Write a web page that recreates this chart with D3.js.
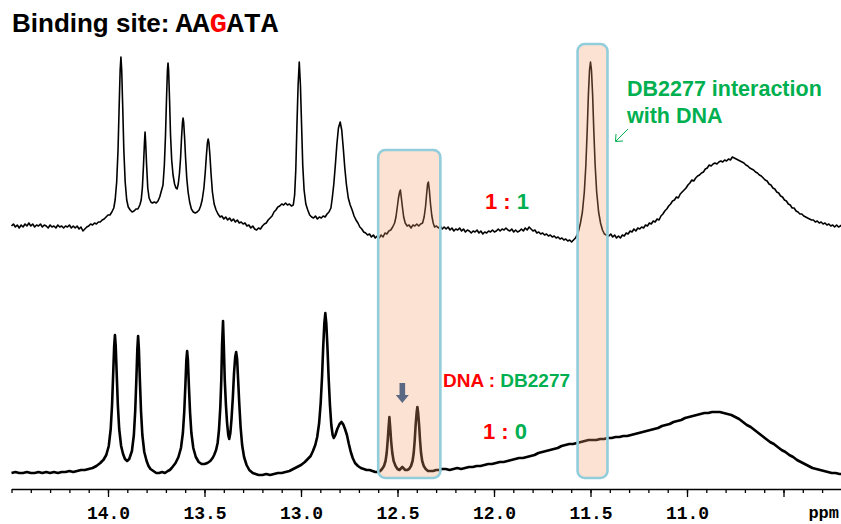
<!DOCTYPE html>
<html><head><meta charset="utf-8">
<script src="https://cdn.jsdelivr.net/npm/d3@7"></script>
<style>html,body{margin:0;padding:0;background:#fff;} svg{display:block;}</style>
</head><body>
<svg id="chart" width="841" height="524"></svg>
<script>
// ---------- DATA ----------
const majorTicks = [14.0, 13.5, 13.0, 12.5, 12.0, 11.5, 11.0, 10.5];
const tickLabels = ["14.0", "13.5", "13.0", "12.5", "12.0", "11.5", "11.0", ""];
const axisUnit = "ppm";
const ratioLabels = [["1 : ", "1"], ["1 : ", "0"]];
const highlightRanges = [[12.600, 12.278], [11.567, 11.412]];
const arrowPpm = 12.475;

// DNA : DB2277 = 1 : 1  (ppm, relative intensity)
const spectrum11 = [
[14.50,24],[14.49,26],[14.48,23],[14.47,25],[14.46,22],[14.45,25],[14.44,23],[14.43,26],[14.42,24],[14.41,27],[14.40,24],[14.39,26],[14.38,23],[14.37,25],[14.36,24],[14.35,26],[14.34,23],[14.33,25],[14.32,24],[14.31,22],[14.30,25],[14.29,23],[14.28,24],[14.27,22],[14.26,25],[14.25,23],[14.24,24],[14.23,22],[14.22,24],[14.21,23],[14.20,25],[14.19,22],[14.18,24],[14.17,22],[14.16,24],[14.15,21],[14.14,23],[14.13,19],[14.12,21],[14.11,23],[14.10,24],[14.09,26],[14.08,25],[14.07,27],[14.06,26],[14.05,28],[14.04,28],[14.03,30],[14.02,31],[14.01,33],[14.00,35],
[13.99,35],[13.98,38],[13.97,42],[13.963,50],[13.955,68],[13.948,100],[13.942,145],[13.937,180],[13.933,193],[13.929,180],[13.924,145],[13.918,100],[13.911,68],[13.903,50],[13.895,43],[13.885,40],[13.875,38],[13.865,39],[13.855,41],[13.845,41],[13.835,45],
[13.828,50],[13.822,62],[13.816,85],[13.811,108],[13.808,118],[13.805,108],[13.800,85],[13.794,62],[13.787,52],[13.778,48],[13.770,47],[13.760,48],[13.750,47],[13.741,49],[13.732,53],
[13.725,58],[13.715,65],[13.708,85],[13.702,115],[13.697,150],[13.692,180],[13.689,187],[13.686,180],[13.681,150],[13.676,115],[13.670,90],[13.663,75],[13.655,66],[13.648,62],[13.642,61],[13.636,66],[13.630,76],[13.624,92],[13.619,112],[13.614,128],[13.611,132],[13.608,128],[13.603,112],[13.598,92],[13.592,72],[13.585,58],[13.577,48],[13.568,41],[13.558,38],[13.548,37],[13.538,38],[13.528,40],[13.520,44],
[13.512,50],[13.503,62],[13.496,78],[13.490,95],[13.485,107],[13.481,111],[13.477,107],[13.472,95],[13.466,76],[13.459,58],[13.450,46],[13.440,40],[13.430,36],[13.419,33],
[13.41,34],[13.40,31],[13.39,33],[13.38,30],[13.37,32],[13.36,29],[13.35,31],[13.34,28],[13.33,30],[13.32,27],[13.31,28],[13.30,26],[13.29,27],[13.28,24],[13.27,25],[13.26,22],[13.25,24],[13.24,21],[13.23,20],[13.22,22],[13.21,21],[13.20,24],[13.19,26],[13.18,27],[13.17,30],[13.16,32],[13.15,34],[13.14,38],[13.13,40],[13.12,43],[13.11,44],[13.10,46],[13.09,45],[13.08,47],[13.07,45],[13.06,46],[13.05,44],[13.04,45],
[13.033,55],[13.027,80],[13.021,125],[13.015,165],[13.009,188],[13.003,165],[12.997,125],[12.991,85],[12.984,60],[12.975,46],[12.965,40],[12.955,35],[12.945,33],[12.935,32],[12.925,34],[12.915,31],[12.905,33],[12.895,32],[12.885,34],[12.875,33],[12.865,36],[12.855,38],[12.845,42],
[12.838,52],[12.830,66],[12.822,85],[12.814,106],[12.806,122],[12.797,128],[12.789,120],[12.781,102],[12.773,82],[12.765,66],[12.755,52],[12.745,45],[12.735,40],[12.725,34],[12.715,30],[12.705,27],[12.695,23],[12.685,21],[12.675,18],[12.665,17],[12.655,15],[12.645,16],[12.635,13],[12.625,15],[12.615,12],[12.605,14],[12.595,12],[12.585,15],
[12.575,13],[12.565,17],[12.555,16],[12.545,19],[12.535,20],[12.525,23],[12.515,27],[12.508,33],[12.501,43],[12.495,52],[12.489,58],[12.485,60],[12.480,52],[12.474,42],[12.468,33],[12.460,27],[12.450,24],[12.440,25],[12.430,22],[12.420,25],[12.410,24],[12.400,26],[12.390,24],[12.380,26],[12.370,27],[12.362,33],[12.355,43],[12.349,56],[12.344,66],[12.340,68],[12.335,60],[12.329,46],[12.322,34],[12.315,27],[12.308,23],[12.298,24],[12.288,22],[12.278,24],[12.268,21],[12.258,23],[12.248,21],[12.238,23],
[12.228,20],[12.218,22],[12.208,19],[12.198,21],[12.188,20],[12.178,22],[12.168,19],[12.158,21],[12.148,18],[12.138,20],[12.128,19],[12.118,17],[12.108,19],[12.098,18],[12.088,20],[12.078,17],[12.068,19],[12.058,16],[12.048,18],[12.038,17],[12.028,19],[12.018,18],[12.008,20],[11.998,18],[11.988,19],[11.978,21],[11.968,19],[11.958,21],[11.948,20],[11.938,22],[11.928,20],[11.918,19],[11.908,21],[11.898,18],[11.888,20],[11.878,18],[11.868,19],[11.858,21],[11.848,19],[11.838,22],[11.828,20],[11.818,23],[11.808,21],[11.798,19],[11.788,20],[11.778,17],[11.768,18],[11.758,16],[11.748,17],[11.738,15],[11.728,16],[11.718,14],[11.708,15],[11.698,13],[11.688,14],[11.678,12],[11.668,13],[11.658,11],[11.648,12],[11.638,10],[11.628,11],[11.618,9],[11.608,10],[11.598,8],[11.588,10],[11.578,12],[11.570,15],
[11.562,19],[11.552,27],[11.542,38],[11.532,58],[11.524,85],[11.517,120],[11.511,155],[11.505,180],[11.500,188],[11.495,180],[11.489,155],[11.483,120],[11.476,85],[11.468,58],[11.458,38],[11.448,27],[11.438,20],[11.428,16],[11.418,15],
[11.405,14],[11.395,16],[11.385,13],[11.375,15],[11.365,12],[11.355,14],[11.345,12],[11.335,15],[11.325,14],[11.315,17],[11.305,16],[11.295,19],[11.285,18],[11.275,21],[11.265,19],[11.255,22],[11.245,21],[11.235,23],[11.225,22],[11.215,25],[11.205,24],[11.195,27],[11.185,26],[11.175,29],[11.165,28],[11.155,31],[11.145,30],[11.135,34],[11.125,36],[11.115,39],[11.105,41],[11.095,44],[11.085,46],[11.075,49],[11.065,50],[11.055,53],[11.045,52],[11.035,56],[11.025,58],[11.015,60],[11.005,62],[10.995,65],[10.985,67],[10.975,70],[10.965,69],[10.955,72],[10.945,74],[10.935,75],[10.925,77],[10.915,78],[10.905,81],[10.895,82],[10.885,85],[10.875,84],[10.865,86],[10.855,87],[10.845,86],[10.835,88],[10.825,89],[10.815,88],[10.805,90],[10.795,89],[10.785,91],[10.775,90],[10.765,93],[10.755,92],[10.745,91],[10.735,90],[10.725,89],[10.715,88],[10.705,87],[10.695,85],[10.685,84],[10.675,82],[10.665,81],[10.655,80],[10.645,78],[10.635,77],[10.625,75],[10.615,74],[10.605,72],[10.595,70],[10.585,69],[10.575,66],[10.565,65],[10.555,62],[10.545,61],[10.535,58],[10.525,57],[10.515,54],[10.505,53],[10.495,50],[10.485,49],[10.475,46],[10.465,45],[10.455,42],[10.445,42],[10.435,39],[10.425,38],[10.415,36],[10.405,36],[10.395,34],[10.385,33],[10.375,32],[10.365,31],[10.355,30],[10.345,30],[10.335,28],[10.325,29],[10.315,27],[10.305,28],[10.295,26],[10.285,27],[10.275,25],[10.265,26],[10.255,24],[10.245,25],[10.235,23],[10.225,25],[10.215,23],[10.205,24],[10.20,25]
];

// DNA : DB2277 = 1 : 0  (ppm, relative intensity)
const spectrum10 = [
[14.50,12],[14.48,13],[14.46,12],[14.44,12],[14.42,13],[14.40,12],[14.38,12],[14.36,13],[14.34,12],[14.32,13],[14.30,12],[14.28,13],[14.26,12],[14.24,13],[14.22,13],[14.20,14],[14.18,13],[14.16,14],[14.14,15],[14.12,15],[14.10,16],[14.08,17],[14.06,19],[14.04,22],[14.03,24],
[14.024,25],[14.009,30],[13.996,39],[13.986,56],[13.979,80],[13.973,112],[13.968,139],[13.964,150],[13.960,139],[13.955,112],[13.949,80],[13.942,56],[13.932,39],[13.922,31],[13.912,26],[13.901,24],[13.890,26],
[13.876,34],[13.866,50],[13.859,74],[13.853,106],[13.848,136],[13.844,149],[13.840,136],[13.835,106],[13.829,74],[13.822,50],[13.812,33],[13.800,24],[13.790,19],[13.780,16],[13.765,14],[13.750,12],[13.735,12],[13.720,13],[13.705,12],[13.690,14],[13.680,15],[13.670,17],
[13.650,22],[13.635,28],[13.622,37],[13.612,52],[13.605,73],[13.599,100],[13.594,125],[13.590,134],[13.586,125],[13.581,100],[13.575,73],[13.568,52],[13.558,37],[13.545,28],[13.530,23],[13.515,21],[13.500,21],[13.485,22],[13.470,24],[13.458,27],
[13.450,30],[13.440,35],[13.432,42],[13.425,55],[13.418,78],[13.413,105],[13.409,140],[13.404,164],[13.400,140],[13.395,105],[13.389,80],[13.383,62],[13.377,50],[13.372,46],[13.366,52],[13.360,66],[13.353,88],[13.347,112],[13.341,128],[13.336,133],[13.331,126],[13.326,106],[13.320,82],[13.313,58],[13.305,40],[13.295,28],[13.282,20],[13.268,15],[13.250,12],[13.235,11],[13.220,10],[13.200,10],[13.180,11],[13.160,10],[13.140,11],[13.120,12],[13.100,12],[13.080,13],[13.060,14],[13.040,16],[13.020,18],[13.000,20],[12.980,23],[12.965,26],[12.950,29],[12.938,34],
[12.926,40],[12.916,48],[12.906,62],[12.898,82],[12.891,108],[12.885,138],[12.879,162],[12.874,172],[12.869,162],[12.863,138],[12.857,108],[12.850,80],[12.843,60],[12.836,50],[12.830,47],[12.822,50],[12.812,56],[12.800,61],[12.790,63],[12.782,61],[12.772,56],[12.762,50],[12.752,41],[12.742,33],[12.732,27],[12.720,22],[12.705,19],[12.690,17],[12.675,16],[12.660,15],[12.645,15],[12.630,14],[12.615,13],[12.600,13],[12.590,14],
[12.580,16],[12.570,19],[12.562,24],[12.556,32],[12.551,44],[12.546,58],[12.542,68],[12.538,58],[12.533,44],[12.527,32],[12.520,24],[12.510,19],[12.500,16],[12.490,15],[12.480,17],[12.475,18],[12.470,17],[12.460,15],[12.450,15],[12.440,16],[12.430,19],[12.422,24],[12.416,32],[12.411,44],[12.406,60],[12.401,72],[12.397,78],[12.393,72],[12.388,60],[12.383,44],[12.378,32],[12.372,24],[12.364,19],[12.354,16],[12.342,14],[12.330,14],[12.315,14],[12.300,15],[12.285,15],[12.270,16],
[12.25,16],[12.23,15],[12.21,16],[12.19,17],[12.17,16],[12.15,17],[12.13,18],[12.11,18],[12.09,19],[12.07,19],[12.05,20],[12.03,21],[12.01,21],[11.99,22],[11.97,23],[11.95,23],[11.93,24],[11.91,25],[11.89,26],[11.87,27],[11.85,27],[11.83,28],[11.81,29],[11.79,30],[11.77,32],[11.75,33],[11.73,34],[11.71,35],[11.69,36],[11.67,37],[11.65,39],[11.63,40],[11.61,41],[11.59,41],[11.57,42],[11.55,43],[11.53,44],[11.51,45],[11.49,45],[11.47,45],[11.45,46],[11.43,46],[11.41,47],[11.39,47],[11.37,48],[11.35,48],[11.33,49],[11.31,49],[11.29,50],[11.27,51],[11.25,52],[11.23,53],[11.21,54],[11.19,55],[11.17,56],[11.15,57],[11.13,59],[11.11,60],[11.09,61],[11.07,63],[11.05,64],[11.03,65],[11.01,67],[10.99,68],[10.97,69],[10.95,70],[10.93,71],[10.91,72],[10.89,72],[10.87,73],[10.85,73],[10.83,73],[10.81,72],[10.79,71],[10.77,70],[10.75,68],[10.73,66],[10.71,63],[10.69,60],[10.67,58],[10.65,55],[10.63,52],[10.61,49],[10.59,46],[10.57,43],[10.55,41],[10.53,38],[10.51,35],[10.49,33],[10.47,30],[10.45,28],[10.43,25],[10.41,23],[10.39,21],[10.37,19],[10.35,17],[10.33,16],[10.31,15],[10.29,14],[10.27,13],[10.25,12],[10.23,12],[10.21,11],[10.20,11]
];

// ---------- LAYOUT ----------
const W = 841, H = 524;
const RED = "#ff0000", GREEN = "#00b050";
const svg = d3.select("#chart");

const x = d3.scaleLinear().domain([14.5, 10.2]).range([11.5, 841.4]);
const yTop = d3.scaleLinear().domain([0, 200]).range([250, 50]);
const yBot = d3.scaleLinear().domain([0, 200]).range([485, 285]);
const axisY = 489;

const sortDesc = a => a.slice().sort((p, q) => q[0] - p[0]);

// traces
svg.append("path")
  .datum(sortDesc(spectrum11))
  .attr("fill", "none").attr("stroke", "#000").attr("stroke-width", 1.6)
  .attr("stroke-linejoin", "round")
  .attr("d", d3.line().x(d => x(d[0])).y(d => yTop(d[1])));

svg.append("path")
  .datum(sortDesc(spectrum10))
  .attr("fill", "none").attr("stroke", "#000").attr("stroke-width", 2.6)
  .attr("stroke-linejoin", "round")
  .attr("d", d3.line().x(d => x(d[0])).y(d => yBot(d[1])));

// highlight boxes (semi-transparent over the traces)
const boxTops = [150, 44], boxBottom = 478;
svg.selectAll("rect.hl").data(highlightRanges).join("rect")
  .attr("class", "hl")
  .attr("x", d => x(d[0])).attr("width", d => x(d[1]) - x(d[0]))
  .attr("y", (d, i) => boxTops[i]).attr("height", (d, i) => boxBottom - boxTops[i])
  .attr("rx", 7).attr("ry", 7)
  .attr("fill", "rgb(241,160,106)").attr("fill-opacity", 0.3)
  .attr("stroke", "#92cddc").attr("stroke-width", 2.6);

// down arrow (grey-blue) above the missing peak
{
  const ax = x(arrowPpm), y0 = 383, y1 = 403, yh = 395, sw = 2.8, hw = 6.5;
  svg.append("path")
    .attr("d", `M${ax - sw},${y0} L${ax + sw},${y0} L${ax + sw},${yh} L${ax + hw},${yh} L${ax},${y1} L${ax - hw},${yh} L${ax - sw},${yh} Z`)
    .attr("fill", "#5a6884");
}

// axis
const mono = "'Liberation Mono','Courier New',monospace";
const axisG = svg.append("g").attr("transform", `translate(0,${axisY})`);
const minor = d3.range(102, 146).map(v => v / 10);
axisG.append("g")
  .call(d3.axisBottom(x).tickValues(minor).tickSize(4).tickFormat(""))
  .call(g => g.select(".domain").remove())
  .call(g => g.selectAll("line").attr("stroke", "#000").attr("stroke-width", 1.3));
axisG.append("g")
  .call(d3.axisBottom(x).tickValues(majorTicks).tickSize(8).tickSizeOuter(0)
    .tickFormat((d, i) => tickLabels[i]))
  .call(g => g.select(".domain").attr("stroke", "#000").attr("stroke-width", 1.6))
  .call(g => g.selectAll("line").attr("stroke", "#000").attr("stroke-width", 1.3))
  .call(g => g.selectAll("text")
    .attr("fill", "#000").attr("y", 17)
    .attr("font-family", mono).attr("font-weight", "bold")
    .attr("font-size", 18).attr("dy", "0.71em"));
axisG.append("text")
  .attr("x", 839).attr("y", 17).attr("dy", "0.71em")
  .attr("text-anchor", "end")
  .attr("font-family", mono).attr("font-weight", "bold")
  .attr("font-size", 17).attr("fill", "#000").text(axisUnit);

// title
const title = svg.append("text").attr("x", 12).attr("y", 32)
  .attr("font-weight", "bold").attr("fill", "#000");
title.append("tspan").attr("font-family", "'Liberation Sans',Arial,sans-serif")
  .attr("font-size", 26).text("Binding site:");
title.append("tspan").attr("font-family", mono).attr("font-size", 28.5).attr("dx", 6).text("AA");
title.append("tspan").attr("font-family", mono).attr("font-size", 28.5).attr("fill", RED).text("G");
title.append("tspan").attr("font-family", mono).attr("font-size", 28.5).text("ATA");

// annotations
const sans = "'Liberation Sans',Arial,sans-serif";
const ann = svg.append("g").attr("font-family", sans).attr("font-weight", "bold");
ann.append("text").attr("x", 627).attr("y", 96).attr("font-size", 21.5).attr("fill", GREEN)
  .text("DB2277 interaction");
ann.append("text").attr("x", 627).attr("y", 123).attr("font-size", 21.5).attr("fill", GREEN)
  .text("with DNA");

// small green pointer arrow
svg.append("line").attr("x1", 628).attr("y1", 129).attr("x2", 616).attr("y2", 141)
  .attr("stroke", GREEN).attr("stroke-width", 1);
svg.append("path").attr("d", "M616,134 L615.5,141.5 L623,141")
  .attr("fill", "none").attr("stroke", GREEN).attr("stroke-width", 1);

// ratio labels
const r1 = ann.append("text").attr("x", 485).attr("y", 209).attr("font-size", 22);
r1.append("tspan").attr("fill", RED).text(ratioLabels[0][0]);
r1.append("tspan").attr("fill", GREEN).text(ratioLabels[0][1]);

const r0 = ann.append("text").attr("x", 483).attr("y", 439).attr("font-size", 22);
r0.append("tspan").attr("fill", RED).text(ratioLabels[1][0]);
r0.append("tspan").attr("fill", GREEN).text(ratioLabels[1][1]);

const hdr = ann.append("text").attr("x", 443).attr("y", 387).attr("font-size", 19);
hdr.append("tspan").attr("fill", RED).text("DNA : ");
hdr.append("tspan").attr("fill", GREEN).text("DB2277");
</script>
</body></html>
